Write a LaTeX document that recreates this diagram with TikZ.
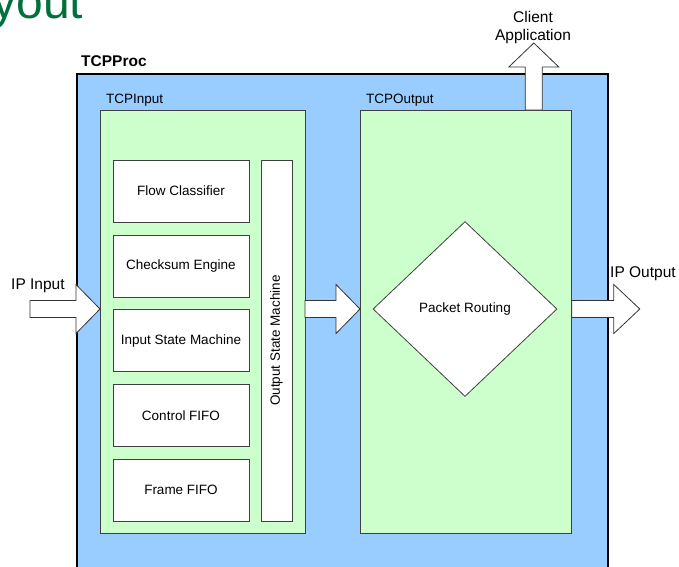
\documentclass[tikz,border=0pt]{standalone}
\usepackage{fontspec}
\setmainfont{Liberation Sans}
\usetikzlibrary{calc,shapes}

\definecolor{procblue}{RGB}{153,204,255}
\definecolor{modgreen}{RGB}{204,255,204}
\definecolor{titlegreen}{RGB}{0,112,60}

\begin{document}
\begin{tikzpicture}[x=1pt,y=-1pt,
        blk/.style={draw=black!75,fill=white,line width=0.8pt,inner sep=0pt},
        modbox/.style={draw=black!75,fill=modgreen,line width=0.8pt,inner sep=0pt,anchor=north west},
        bigarrow/.style={draw=black!80,fill=white,line width=0.8pt,line join=miter},
        small/.style={font=\fontsize{13.5}{15}\selectfont},
        big/.style={font=\fontsize{15.5}{18}\selectfont}]
        \useasboundingbox (0,0) rectangle (679,566);
        \clip (0,0) rectangle (679,566);
        \draw (-11,18) node [anchor=base west,text=titlegreen,font=\fontsize{48}{52}\selectfont,name=title] {yout};
        \draw (76,73) node [draw=black,fill=procblue,line width=1.6pt,inner sep=0pt,anchor=north west,minimum width=531pt,minimum height=520pt,name=proc] {};
        \draw (81,66) node [anchor=base west,inner sep=0pt,font=\fontsize{15.5}{18}\bfseries\selectfont,name=proclbl] {TCPProc};
        \draw (100,110) node [modbox,minimum width=205pt,minimum height=423pt,name=tin] {};
        \draw (360,110) node [modbox,minimum width=211pt,minimum height=423pt,name=tout] {};
        \draw (106,103) node [small,anchor=base west,inner sep=0pt,name=tinlbl] {TCPInput};
        \draw (366,103) node [small,anchor=base west,inner sep=0pt,name=toutlbl] {TCPOutput};
        \draw (181,191) node [blk,small,minimum width=136pt,minimum height=62pt,name=flow] {Flow Classifier};
        \draw (181,266) node [blk,small,minimum width=136pt,minimum height=62pt,name=csum] {Checksum Engine};
        \draw (181,340.5) node [blk,small,minimum width=136pt,minimum height=62pt,name=ism] {Input State Machine};
        \draw (181,415.5) node [blk,small,minimum width=136pt,minimum height=62pt,name=cfifo] {Control FIFO};
        \draw (181,490) node [blk,small,minimum width=136pt,minimum height=62pt,name=ffifo] {Frame FIFO};
        \draw (276.5,340.5) node [blk,small,rotate=90,minimum width=361pt,minimum height=31pt,name=osm] {Output State Machine};
        \draw (465,309) node [blk,small,diamond,minimum width=184pt,minimum height=175pt,name=dia] {Packet Routing};
        \draw [bigarrow] (tin.west |- dia) -- ++(-24,-24.5) -- ++(0,16) -- ++(-46,0) -- ++(0,17) -- ++(46,0) -- ++(0,16) -- cycle;
        \draw [bigarrow] (tout.west |- dia) -- ++(-24,-24.5) -- ++(0,16) -- ++(-31,0) -- ++(0,17) -- ++(31,0) -- ++(0,16) -- cycle;
        \draw [bigarrow] ($ (tout.east |- dia) + (68,0) $) -- ++(-26,-24.5) -- ++(0,16) -- ++(-42,0) -- ++(0,17) -- ++(42,0) -- ++(0,16) -- cycle;
        \draw [bigarrow] ($ (tout.north east) + (-38,-67) $) -- ++(-25,24) -- ++(16.5,0) -- ++(0,43) -- ++(17,0) -- ++(0,-43) -- ++(16.5,0) -- cycle;
        \draw (11,289) node [big,anchor=base west,inner sep=0pt,name=ipin] {IP Input};
        \draw (610,277) node [big,anchor=base west,inner sep=0pt,name=ipout] {IP Output};
        \draw (533,11) node [big,anchor=north,align=center,inner sep=0pt,name=client] {Client\\Application};
    \end{tikzpicture}
\end{document}
